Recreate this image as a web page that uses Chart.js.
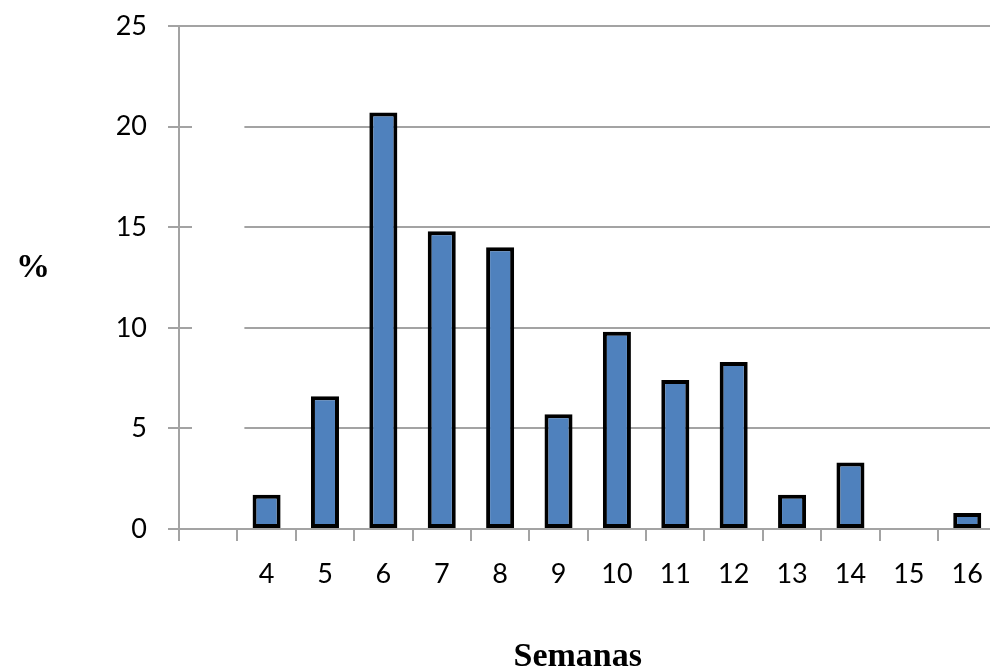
<!DOCTYPE html>
<html>
<head>
<meta charset="utf-8">
<script src="https://cdn.jsdelivr.net/npm/chart.js@4"></script>
<style>
  html, body { margin: 0; padding: 0; background: #fff; overflow: hidden; }
  canvas { display: block; }
</style>
</head>
<body>
<canvas id="semanasChart" width="1000" height="672"></canvas>
<script>
// weeks (first slot left empty, as in the original)
const semanas = ['', '4', '5', '6', '7', '8', '9', '10', '11', '12', '13', '14', '15', '16'];
const porcentaje = [null, 1.7, 6.6, 20.7, 14.8, 14.0, 5.7, 9.8, 7.4, 8.3, 1.7, 3.3, 0, 0.8];
const yTicks = [0, 5, 10, 15, 20, 25];

const gridGray = '#a3a3a3';

// the original has a blank patch over the inner gridlines near the y axis,
// and both axis titles are horizontal
const extras = {
  id: 'extras',
  beforeDatasetsDraw(chart) {
    const { ctx, chartArea, scales: { x, y } } = chart;
    const half = (x.getPixelForValue(1) - x.getPixelForValue(0)) / 2;
    ctx.save();
    ctx.fillStyle = '#fff';
    const x0 = chartArea.left + 13;
    const x1 = x.getPixelForValue(1) - half + 7;
    const y0 = y.getPixelForValue(22.5);
    const y1 = y.getPixelForValue(2.5);
    ctx.fillRect(x0, y0, x1 - x0, y1 - y0);
    ctx.restore();
  },
  afterDraw(chart) {
    const { ctx, chartArea } = chart;
    ctx.save();
    ctx.font = 'bold 34px "Liberation Serif"';
    ctx.fillStyle = '#000';
    ctx.textAlign = 'center';
    ctx.textBaseline = 'middle';
    ctx.fillText('%', 33, (chartArea.top + chartArea.bottom) / 2 - 9);
    ctx.fillText('Semanas', (chartArea.left + chartArea.right) / 2 - 10, chart.height - 15);
    ctx.restore();
  }
};

const ctx = document.getElementById('semanasChart').getContext('2d');

new Chart(ctx, {
  type: 'bar',
  data: {
    labels: semanas,
    datasets: [{
      data: porcentaje,
      backgroundColor: '#4f81bd',
      borderColor: '#000',
      borderWidth: 4,
      borderSkipped: false,
      categoryPercentage: 1,
      barPercentage: 0.48
    }]
  },
  options: {
    responsive: false,
    animation: false,
    layout: {
      padding: { top: 26, right: 3, bottom: 0, left: 0 }
    },
    plugins: {
      legend: { display: false },
      tooltip: { enabled: false }
    },
    scales: {
      x: {
        afterFit: (s) => { s.height = 143; },
        grid: {
          drawOnChartArea: false,
          color: gridGray,
          lineWidth: 2,
          tickLength: 12
        },
        border: { color: gridGray, width: 2 },
        ticks: {
          color: '#000',
          font: { family: 'Lato', size: 27 },
          padding: 17,
          maxRotation: 0,
          autoSkip: false
        }
      },
      y: {
        min: 0,
        max: 25,
        afterFit: (s) => {
          s.width = 179;
          s.paddingTop = 10;
          s.paddingBottom = 10;
        },
        afterBuildTicks: (s) => { s.ticks = yTicks.map(v => ({ value: v })); },
        grid: {
          color: gridGray,
          lineWidth: 2,
          tickLength: 11
        },
        border: { color: gridGray, width: 2 },
        ticks: {
          color: '#000',
          font: { family: 'Lato', size: 27 },
          padding: 21
        }
      }
    }
  },
  plugins: [extras]
});
</script>
</body>
</html>
